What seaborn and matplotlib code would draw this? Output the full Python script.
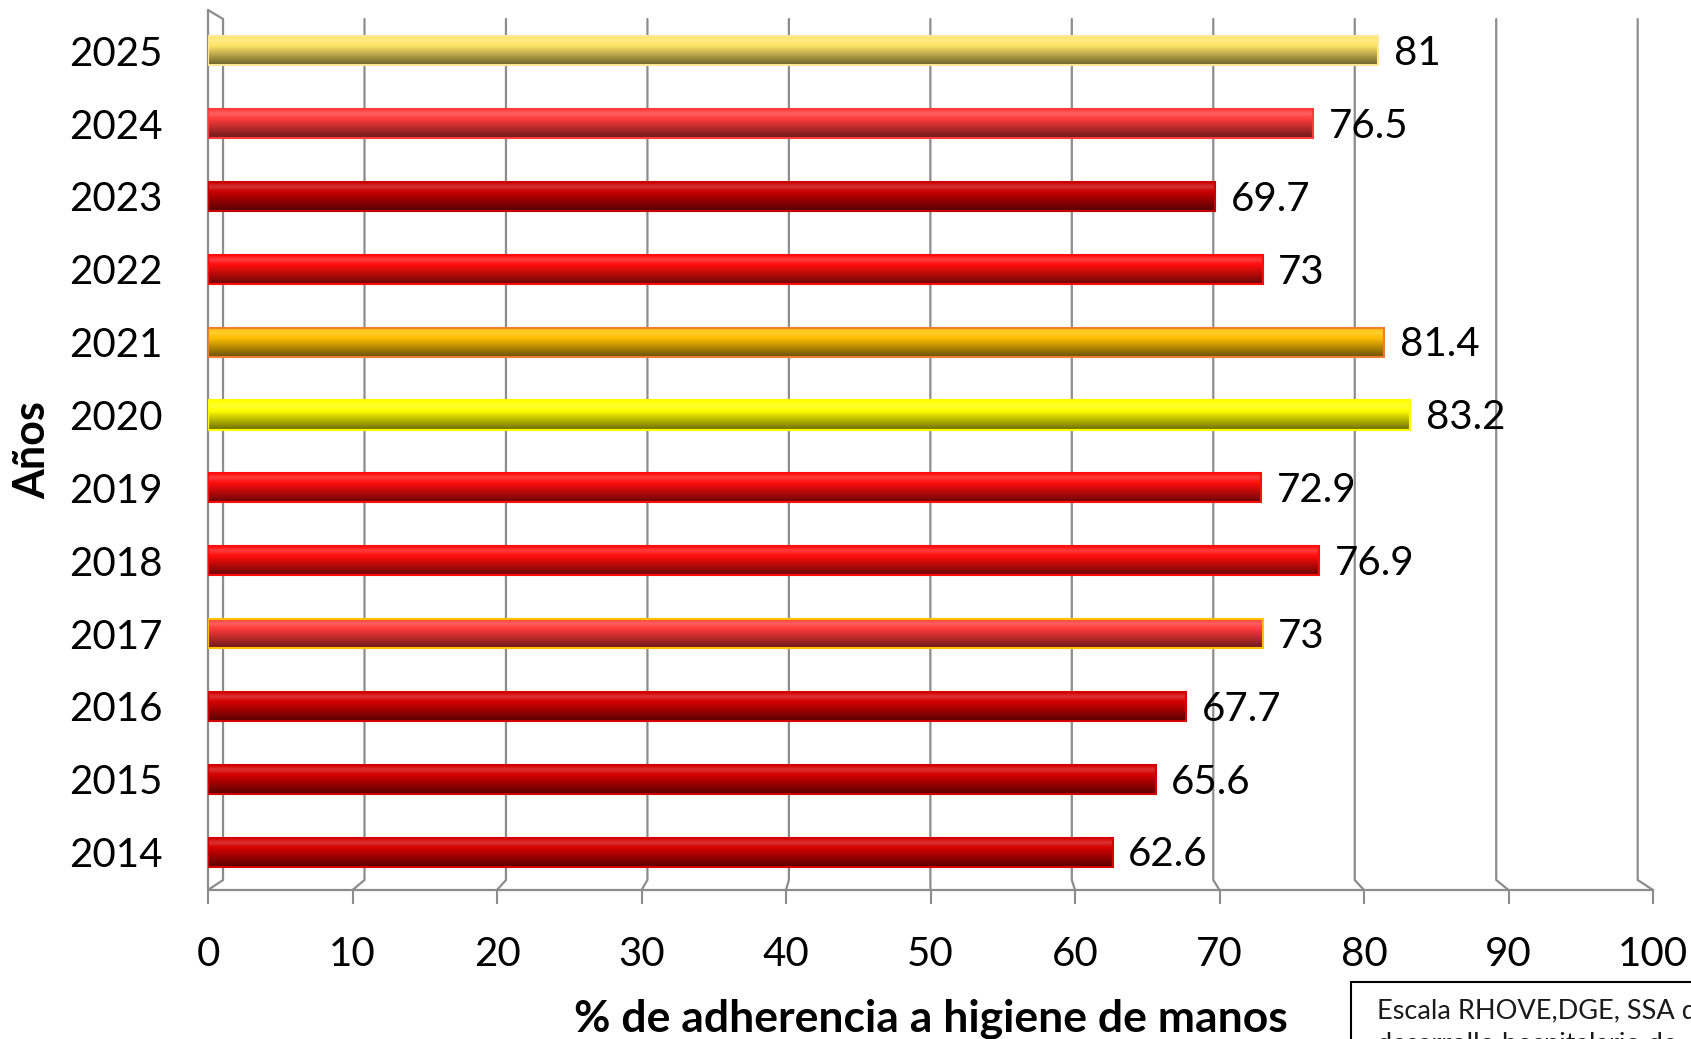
import numpy as np
import pandas as pd
import matplotlib
matplotlib.use("Agg")
import matplotlib.pyplot as plt
import matplotlib.colors as mcolors
from matplotlib.patches import Rectangle
import seaborn as sns

# ---------------- data ----------------
years = ["2025", "2024", "2023", "2022", "2021", "2020",
         "2019", "2018", "2017", "2016", "2015", "2014"]
values = [81, 76.5, 69.7, 73, 81.4, 83.2, 72.9, 76.9, 73, 67.7, 65.6, 62.6]
bar_colors = ["#FFE467", "#FF3B3B", "#C80000", "#FF0D0D", "#FFC000", "#FFFF00",
              "#FF0D0D", "#FF0D0D", "#FF3B3B", "#D40000", "#D40000", "#D40000"]
edge_colors = ["#FFE699", "#FF3B3B", "#C80000", "#FF0D0D", "#ED7D31", "#FFFF00",
               "#FF0D0D", "#FF0D0D", "#FFC000", "#D40000", "#D40000", "#D40000"]
x_ticks = [0, 10, 20, 30, 40, 50, 60, 70, 80, 90, 100]
x_label = "% de adherencia a higiene de manos"
y_label = "Años"
note_line1 = "Escala RHOVE,DGE, SSA de"
note_line2 = "desarrollo hospitalario de"

df = pd.DataFrame({"year": years, "value": values})

sns.set_theme(style="white")
plt.rcParams["font.family"] = ["Lato", "DejaVu Sans"]

W, H = 1691, 1039
fig = plt.figure(figsize=(W / 100, H / 100), dpi=100)
left_px, right_px = 208, 1653
top_px, bot_px = 10, 890
ax = fig.add_axes([left_px / W, 1 - bot_px / H,
                   (right_px - left_px) / W, (bot_px - top_px) / H])

palette = dict(zip(years, bar_colors))
sns.barplot(data=df, x="value", y="year", hue="year", palette=palette,
            order=years, hue_order=years, orient="h", width=0.40,
            legend=False, ax=ax, saturation=1)

y_top, y_bot = -0.56, 11.52
ax.set_xlim(0, 100)
ax.set_ylim(y_bot, y_top)
ax.set_autoscale_on(False)

# ---- cylinder shading on each bar ----
def shade(base, n=64):
    rgb = np.array(mcolors.to_rgb(base))
    t = np.linspace(0, 1, n)
    f = np.where(t < 0.35, 1.0, 1.0 - (t - 0.35) / 0.65 * 0.58)
    hl = 0.18 * np.exp(-((t - 0.18) / 0.10) ** 2)
    cols = rgb[None, :] * f[:, None]
    cols = cols + (1 - cols) * hl[:, None]
    return np.clip(cols, 0, 1)[:, None, :]

patches = sorted(ax.patches, key=lambda p: p.get_y())
for p, col, ec in zip(patches, bar_colors, edge_colors):
    x0, y0 = p.get_x(), p.get_y()
    w, h = p.get_width(), p.get_height()
    img = ax.imshow(shade(col), extent=(x0, x0 + w, y0 + h, y0),
                    origin="upper", aspect="auto", zorder=3, interpolation="bilinear")
    img.set_clip_path(p)
    p.set_edgecolor(ec)
    p.set_linewidth(1.5)
    p.set_zorder(3.5)
    p.set_facecolor("none")

ax.set_xlim(0, 100)
ax.set_ylim(y_bot, y_top)

# ---- 3D-like walls / gridlines ----
gc = "#8C8C8C"
lw = 1.6
def xb(v):
    return 1.04 + 0.979 * v
y_back_top = -0.436
y_back_bot = 11.383
for v in x_ticks:
    ax.plot([xb(v), xb(v), v], [y_back_top, y_back_bot, y_bot],
            color=gc, lw=lw, clip_on=False, zorder=1)
ax.plot([0, 0], [y_top, y_bot], color=gc, lw=lw, clip_on=False, zorder=1)
ax.plot([0, xb(0)], [y_top, y_back_top], color=gc, lw=lw, clip_on=False, zorder=1)
ax.plot([0, 100], [y_bot, y_bot], color=gc, lw=lw, clip_on=False, zorder=1)

for s in ax.spines.values():
    s.set_visible(False)

ax.set_xticks(x_ticks)
ax.set_xticklabels([str(v) for v in x_ticks])
ax.tick_params(axis="x", direction="out", length=10, width=1.5, color=gc,
               pad=23, labelsize=29, labelcolor="black", bottom=True)
ax.tick_params(axis="y", length=0, pad=33, labelsize=29, labelcolor="black")

# ---- value labels ----
for i, v in enumerate(values):
    ax.annotate(f"{v:g}", xy=(v, i), xytext=(11, -2), textcoords="offset points",
                va="center", ha="left", fontsize=29, color="black", zorder=5)

ax.set_xlabel(x_label, fontsize=32, fontweight="bold", color="black")
ax.xaxis.set_label_coords(0.5, -(1019 - bot_px) / (bot_px - top_px))
ax.xaxis.label.set_va("center")
ax.set_ylabel(y_label, fontsize=31, fontweight="bold", color="black")
ax.yaxis.set_label_coords(-(left_px - 32) / (right_px - left_px), 0.5)
ax.yaxis.label.set_va("center")

# ---- note box (cut by the figure edge) ----
fig.patches.append(Rectangle((1351 / W, -0.05), (W - 1351 + 20) / W,
                             0.05 + 1 - 982 / H, transform=fig.transFigure,
                             fill=True, facecolor="white", edgecolor="black",
                             lw=1.5, zorder=10))
fig.text(1377 / W, 1 - 1018 / H, note_line1, fontsize=19.5, ha="left",
         va="baseline", color="#1a1a1a", zorder=11)
fig.text(1377 / W, 1 - 1052 / H, note_line2, fontsize=19.5, ha="left",
         va="baseline", color="#1a1a1a", zorder=11)

fig.savefig("out.png", dpi=100)
